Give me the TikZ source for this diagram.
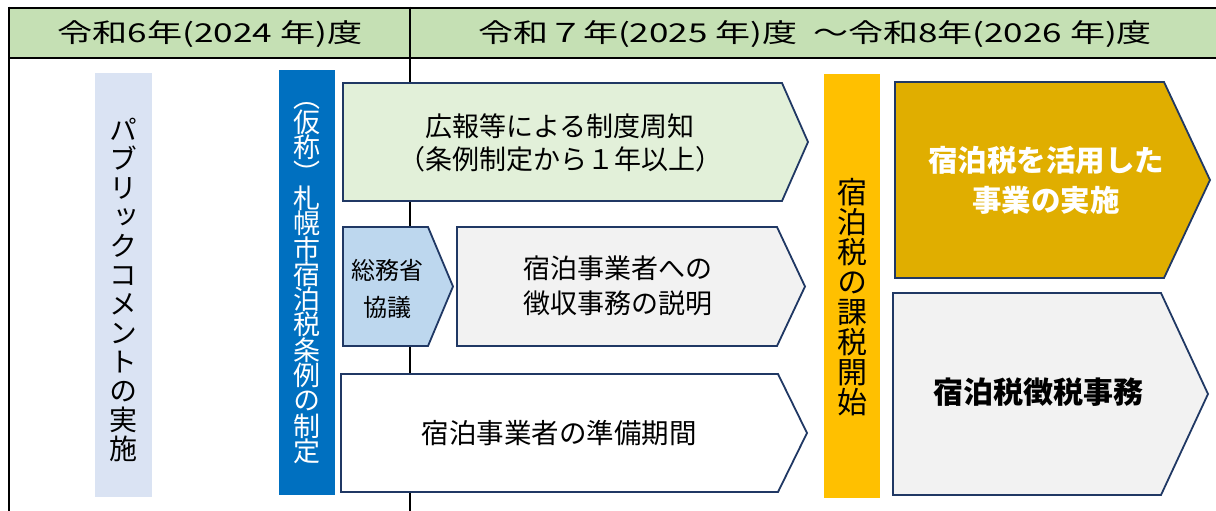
\documentclass[tikz,border=0pt]{standalone}
\usepackage{fontspec}
\usepackage{graphicx}
\setmainfont{Noto Sans CJK JP}
\newfontfamily\jpvert[RawFeature=+vert]{Noto Sans CJK JP}
\newcommand\vertfont[2]{\jpvert\fontsize{#1}{#2}\selectfont\lineskiplimit-20pt\relax}

\definecolor{headgreen}{HTML}{C5E0B4}
\definecolor{commentblue}{HTML}{DAE3F3}
\definecolor{ordblue}{HTML}{0070C0}
\definecolor{taxyellow}{HTML}{FFC000}
\definecolor{noticegreen}{HTML}{E2F0D9}
\definecolor{consultblue}{HTML}{BDD7EE}
\definecolor{boxgray}{HTML}{F2F2F2}
\definecolor{usegold}{HTML}{E0AE00}
\definecolor{outline}{HTML}{203864}

\tikzstyle{tableline} = [draw,line width=2.5pt,black]
\tikzstyle{bodyline} = [draw,line width=1.6pt,black]
\tikzstyle{bar} = [rectangle,inner sep=0pt,outer sep=0pt]
\tikzstyle{bodybox} = [rectangle,inner sep=0pt,outer sep=0pt]
\tikzstyle{boxline} = [draw,line width=1.8pt,outline,line join=miter]
\tikzstyle{headtext} = [inner sep=0pt,font=\fontsize{26}{30}\selectfont]
\tikzstyle{boxtext} = [align=center,inner sep=0pt,font=\fontsize{27}{34}\selectfont]
\tikzstyle{vtext} = [align=center,inner sep=0pt]

\begin{document}
\begin{tikzpicture}[x=1pt,y=-1pt]
      \useasboundingbox (0,0) rectangle (1216,511);
      % table
      \fill[headgreen] (9,8) rectangle (1222,58);
      \draw[tableline] (9,8) -- (1222,8);
      \draw[tableline] (9,58) -- (1222,58);
      \draw[tableline] (9,6.75) -- (9,515);
      \draw[tableline] (410,6.75) -- (410,58);
      \draw[bodyline] (410,58) -- (410,515);
      \node[headtext] (year1) at (210,34) {\resizebox{305pt}{\height}{令和6年(2024 年)度}};
      \node[headtext] (year2) at (815,34) {\resizebox{674pt}{\height}{令和７年(2025 年)度\ \ ～令和8年(2026 年)度}};

      % bars
      \foreach \name/\cx/\cy/\w/\h/\col in {
        comment/123.5/285/57/424/commentblue,
        ordinance/307/282.5/56/425/ordblue,
        taxstart/852/286/56/424/taxyellow}
      {
        \node[bar, fill=\col, minimum width=\w, minimum height=\h] (\name) at (\cx,\cy) {};
      };
      \node[vtext, font=\vertfont{28}{29}] (commenttext) at (123.5,290)
        {パ\\ブ\\リ\\ッ\\ク\\コ\\メ\\ン\\ト\\の\\実\\施};
      \node[vtext, white, font=\vertfont{27}{25.3}] (ordinancetext) at (307,283)
        {（\\仮\\称\\）\\札\\幌\\市\\宿\\泊\\税\\条\\例\\の\\制\\定};
      \node[vtext, font=\vertfont{30}{30}] (taxstarttext) at (852,297)
        {宿\\泊\\税\\の\\課\\税\\開\\始};

      % arrow boxes
      \foreach \name/\cx/\cy/\w/\h/\tip/\col in {
        notice/562.5/142/439/118/26/noticegreen,
        consult/385.5/286.5/85/119/25/consultblue,
        explain/617/286.5/320/119/28/boxgray,
        prepare/559.5/433/437/118/29/white,
        usage/1029.5/180/269/196/46/usegold,
        collect/1027/394/268/202/47/boxgray}
      {
        \node[bodybox, minimum width=\w, minimum height=\h] (\name) at (\cx,\cy) {};
        \draw[boxline, fill=\col] (\name.north west) -- (\name.north east) -- ([xshift=\tip]\name.east)
          -- (\name.south east) -- (\name.south west) -- cycle;
      };

      % texts
      \node[boxtext, font=\fontsize{27}{33}\selectfont] (noticetext) at (560,143) {広報等による制度周知\\（条例制定から１年以上）};
      \node[boxtext, font=\fontsize{24}{37}\selectfont] (consulttext) at (387,289) {総務省\\協議};
      \node[boxtext, font=\fontsize{27}{35}\selectfont] (explaintext) at (618,286) {宿泊事業者への\\徴収事務の説明};
      \node[boxtext, font=\fontsize{27.5}{34}\selectfont] (preparetext) at (559,433) {宿泊事業者の準備期間};
      \node[boxtext, white, font=\fontsize{29.5}{40}\selectfont\bfseries] (usagetext) at (1046,180) {宿泊税を活用した\\事業の実施};
      \node[boxtext, font=\fontsize{30}{36}\selectfont\bfseries] (collecttext) at (1038,392) {宿泊税徴税事務};
\end{tikzpicture}
\end{document}
